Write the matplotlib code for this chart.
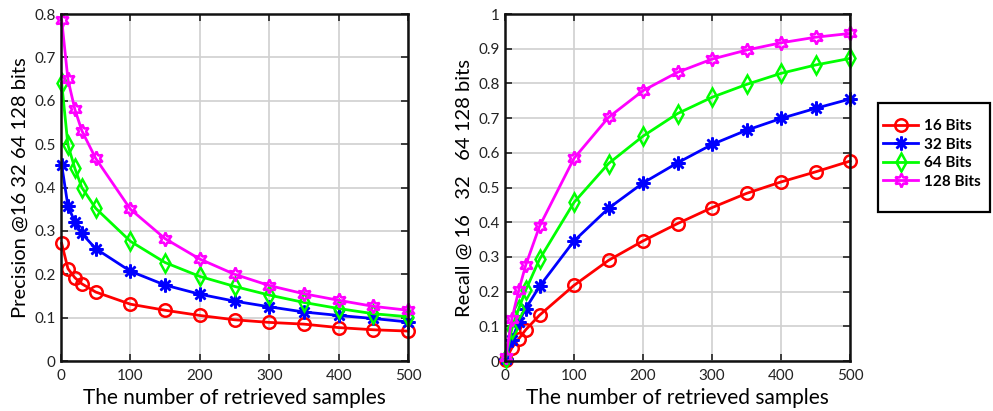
import matplotlib
matplotlib.use("Agg")
import matplotlib.pyplot as plt
from matplotlib.ticker import FuncFormatter
from matplotlib.patches import Rectangle

plt.rcParams['font.family'] = ['Lato', 'DejaVu Sans']

x = [1, 10, 20, 30, 50, 100, 150, 200, 250, 300, 350, 400, 450, 500]
labels = ['16 Bits', '32 Bits', '64 Bits', '128 Bits']

prec_16 = [0.271, 0.213, 0.192, 0.178, 0.159, 0.131, 0.117, 0.105, 0.095, 0.089, 0.085, 0.077, 0.072, 0.069]
prec_32 = [0.452, 0.357, 0.321, 0.294, 0.259, 0.207, 0.175, 0.154, 0.138, 0.125, 0.113, 0.105, 0.098, 0.090]
prec_64 = [0.640, 0.498, 0.444, 0.400, 0.352, 0.276, 0.227, 0.195, 0.172, 0.152, 0.135, 0.121, 0.109, 0.102]
prec_128 = [0.786, 0.649, 0.580, 0.531, 0.467, 0.350, 0.282, 0.235, 0.200, 0.174, 0.155, 0.140, 0.126, 0.117]

rec_16 = [0.003, 0.038, 0.064, 0.090, 0.132, 0.218, 0.290, 0.346, 0.396, 0.442, 0.483, 0.516, 0.545, 0.576]
rec_32 = [0.005, 0.060, 0.113, 0.151, 0.215, 0.346, 0.440, 0.513, 0.571, 0.624, 0.665, 0.699, 0.728, 0.755]
rec_64 = [0.008, 0.093, 0.151, 0.204, 0.293, 0.457, 0.569, 0.648, 0.713, 0.760, 0.797, 0.829, 0.853, 0.872]
rec_128 = [0.012, 0.122, 0.204, 0.276, 0.388, 0.584, 0.702, 0.779, 0.832, 0.870, 0.896, 0.917, 0.933, 0.944]

colors = ['#ff0000', '#0000ff', '#00ff00', '#ff00ff']
markers = ['o', (8, 2, 0), 'd', (6, 1, 0)]
msizes = [9, 10, 9, 10]

fig = plt.figure(figsize=(9.93, 4.11), dpi=100)
ax1 = fig.add_axes([61/993, 50/411, 347/993, 347/411])
ax2 = fig.add_axes([505/993, 50/411, 345/993, 347/411])

fmt = FuncFormatter(lambda v, p: ('%g' % round(v, 2)))

def style(ax, ymax, yticks):
    ax.set_xlim(0, 500)
    ax.set_ylim(0, ymax)
    ax.set_xticks(range(0, 501, 100))
    ax.set_yticks(yticks)
    ax.yaxis.set_major_formatter(fmt)
    ax.grid(True, color='#d0d0d0', linewidth=1.2)
    ax.set_axisbelow(True)
    ax.tick_params(direction='in', top=True, right=True, length=5, width=1.2,
                   labelsize=11, colors='#222222')
    ax.tick_params(axis='x', pad=6)
    ax.tick_params(axis='y', pad=4)
    for s in ax.spines.values():
        s.set_linewidth(1.8)
        s.set_color('#111111')
    ax.set_xlabel('The number of retrieved samples', fontsize=15, labelpad=3)

for ys, c, m, ms, lab in zip([prec_16, prec_32, prec_64, prec_128], colors, markers, msizes, labels):
    ax1.plot(x, ys, color=c, marker=m, markersize=ms, markerfacecolor='none',
             markeredgecolor=c, markeredgewidth=1.8, linewidth=2, label=lab, clip_on=False)
for ys, c, m, ms in zip([rec_16, rec_32, rec_64, rec_128], colors, markers, msizes):
    ax2.plot(x, ys, color=c, marker=m, markersize=ms, markerfacecolor='none',
             markeredgecolor=c, markeredgewidth=1.8, linewidth=2, clip_on=False)

style(ax1, 0.8, [i / 10 for i in range(9)])
style(ax2, 1.0, [i / 10 for i in range(11)])
ax1.set_ylabel('Precision @16 32 64 128 bits', fontsize=14.5, labelpad=4)
ax2.set_ylabel('Recall @ 16   32   64 128 bits', fontsize=14.5, labelpad=4)

# legend frame
fig.patches.append(Rectangle((878/993, 1 - 212/411), 112/993, 109/411,
                             transform=fig.transFigure, facecolor='white',
                             edgecolor='black', linewidth=1.6, zorder=1))
handles, labs = ax1.get_legend_handles_labels()
leg = fig.legend(handles, labs, loc='upper left',
                 bbox_to_anchor=(883/993, 1 - 119/411), prop={'weight': 'bold', 'size': 11},
                 frameon=False, handlelength=2.3, borderpad=0, labelspacing=0.3,
                 handletextpad=0.4, borderaxespad=0)
leg.set_zorder(2)

fig.savefig('out.png', dpi=100)
